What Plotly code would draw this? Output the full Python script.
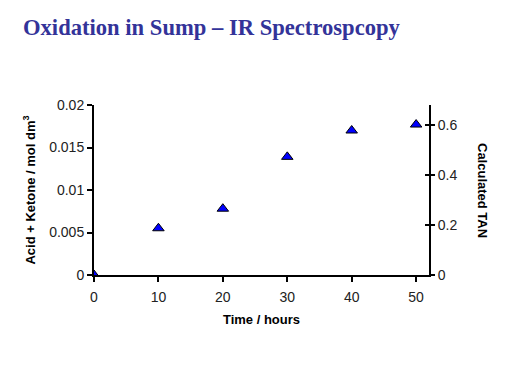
import plotly.graph_objects as go

time_hours = [0, 10, 20, 30, 40, 50]
acid_ketone = [0.0, 0.0055, 0.0078, 0.0139, 0.0170, 0.0177]
left_ticks = [0, 0.005, 0.01, 0.015, 0.02]
right_ticks = [0, 0.2, 0.4, 0.6]
x_ticks = [0, 10, 20, 30, 40, 50]

fig = go.Figure()
fig.add_trace(go.Scatter(
    x=time_hours, y=acid_ketone, mode="markers",
    marker=dict(symbol="triangle-up", size=10, color="#0000FF",
                line=dict(color="black", width=1)),
    showlegend=False,
))
# invisible traces to activate secondary axes
fig.add_trace(go.Scatter(x=[None], y=[None], yaxis="y2", showlegend=False))
fig.add_trace(go.Scatter(x=[None], y=[None], yaxis="y3", showlegend=False))

tickfont = dict(family="Arial, Liberation Sans", size=14, color="#222")
titlefont = dict(family="Arial, Liberation Sans", size=13, color="black", weight="bold")

# page body has an 8px margin, so the figure is 504x376 placed at (8, 8)
fig.update_layout(
    width=504, height=376,
    margin=dict(l=86, r=83, t=97, b=109),
    paper_bgcolor="white", plot_bgcolor="white",
    title=dict(text="<b>Oxidation in Sump – IR Spectrospcopy</b>",
               font=dict(family="Times New Roman, Liberation Serif", size=22.6, color="#333399"),
               x=15 / 504, xanchor="left", y=1 - 19 / 376, yanchor="middle"),
    xaxis=dict(range=[0, 52], tickvals=x_ticks, showgrid=False, zeroline=False,
               showline=True, linecolor="black", linewidth=2,
               ticks="outside", ticklen=5, tickwidth=2, tickcolor="black",
               tickfont=tickfont, ticklabelstandoff=3,
               title=dict(text="Time / hours", font=titlefont, standoff=11)),
    yaxis=dict(range=[0, 0.02], tickvals=left_ticks, showgrid=False, zeroline=False,
               showline=True, linecolor="black", linewidth=2,
               ticks="outside", ticklen=5, tickwidth=2, tickcolor="black",
               tickfont=tickfont,
               title=dict(text="Acid + Ketone / mol dm<sup>3</sup>", font=titlefont, standoff=11)),
    yaxis2=dict(range=[0, 0.68], tickvals=right_ticks, overlaying="y", side="right",
                showgrid=False, zeroline=False, showline=True, linecolor="black", linewidth=2,
                ticks="outside", ticklen=4, tickwidth=2, tickcolor="black",
                tickfont=tickfont),
    yaxis3=dict(range=[0, 0.68], tickvals=right_ticks, overlaying="y", side="right",
                showgrid=False, zeroline=False, showline=False, showticklabels=False,
                ticks="inside", ticklen=4, tickwidth=2, tickcolor="black"),
)

fig.add_annotation(text="<b>Calculated TAN</b>", textangle=90,
                   xref="paper", yref="paper", x=1.0, y=0.5,
                   xanchor="center", yanchor="middle",
                   xshift=54, showarrow=False,
                   font=dict(family="Arial, Liberation Sans", size=13, color="black"))

fig.write_html("out.html")
